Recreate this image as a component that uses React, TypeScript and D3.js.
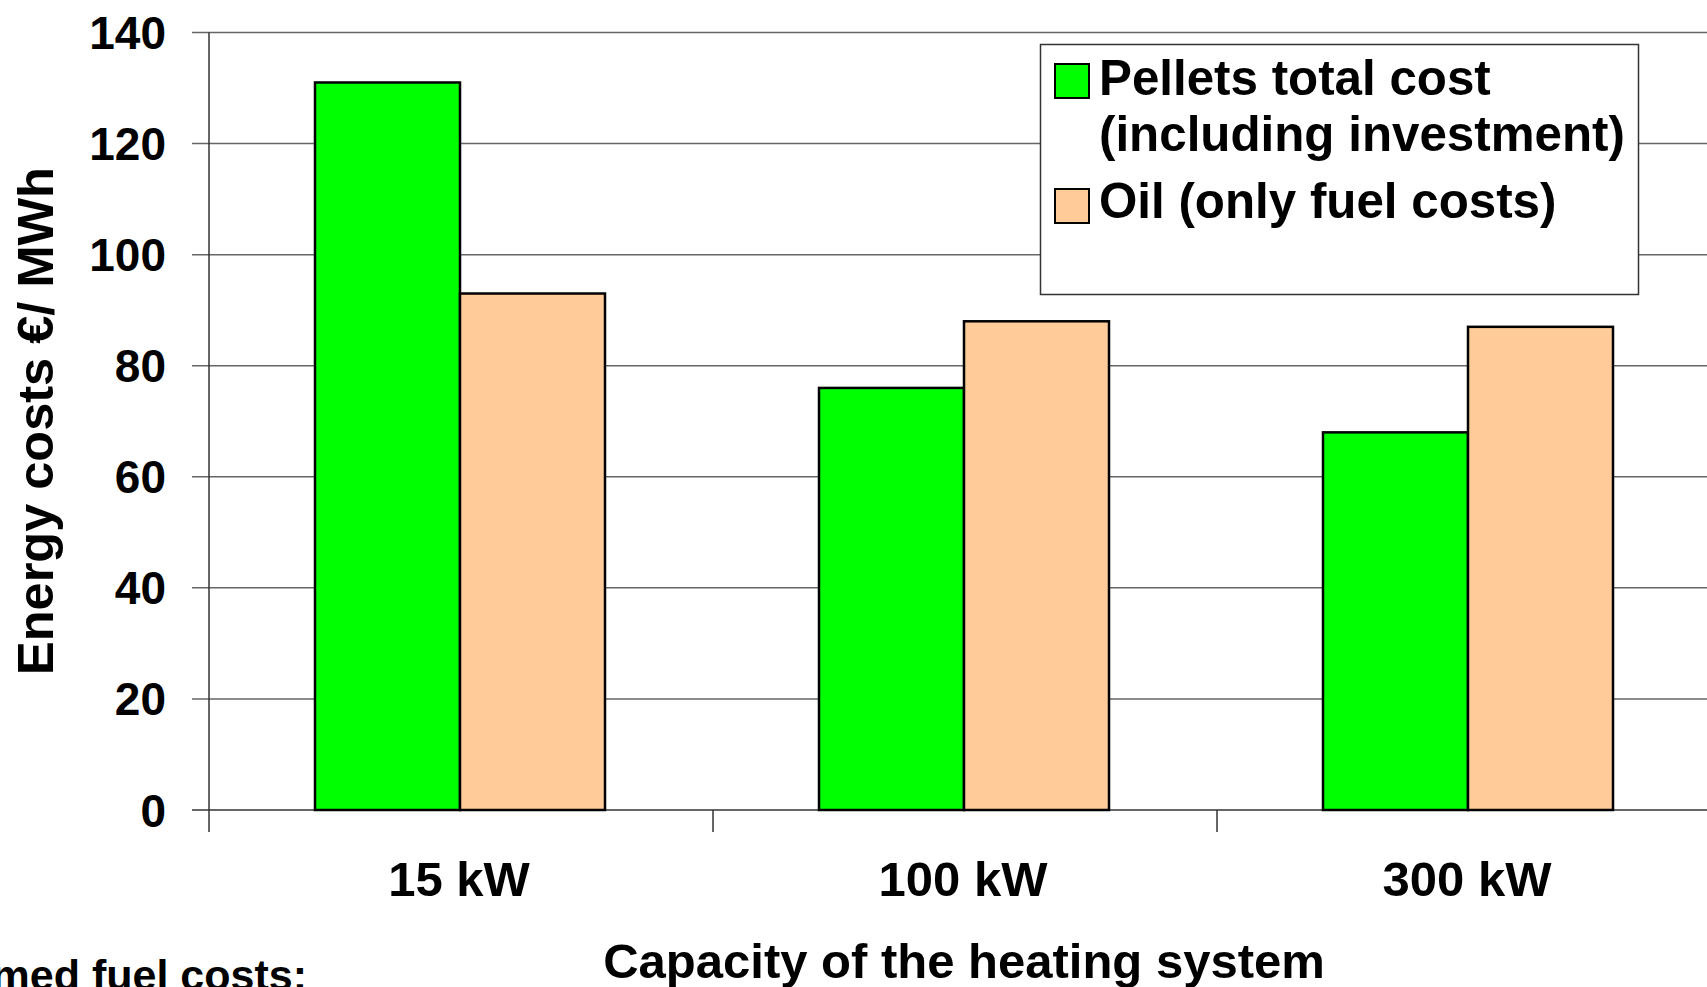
import React from "react";
import * as d3 from "d3";

const categories = ["15 kW", "100 kW", "300 kW"];
const seriesNames = ["Pellets total cost (including investment)", "Oil (only fuel costs)"];
const pelletsValues = [131, 76, 68];
const oilValues = [93, 88, 87];
const yTicks = [0, 20, 40, 60, 80, 100, 120, 140];
const colors = ["#00FF00", "#FFCC99"];

const W = 1707;
const H = 987;
const FONT = "'Liberation Sans', Arial, Helvetica, sans-serif";

export default function App() {
  const x0 = 209;
  const step = 504;
  const xScale = d3.scaleBand<string>().domain(categories).range([x0, x0 + step * categories.length]).padding(0);
  const inner = d3.scaleBand<string>().domain(["p", "o"]).range([106, 396]).padding(0);
  const y = d3.scaleLinear().domain([0, 140]).range([810, 32.5]);
  const series = [pelletsValues, oilValues];
  const keys = ["p", "o"];
  const plotRight = x0 + step * categories.length;

  return (
    <svg
      width={W}
      height={H}
      viewBox={`0 0 ${W} ${H}`}
      style={{ position: "absolute", left: 0, top: 0, background: "#fff", overflow: "hidden" }}
    >
      <rect x={0} y={0} width={W} height={H} fill="#fff" />
      {/* gridlines */}
      {yTicks.map((t) => (
        <line key={"g" + t} x1={192} x2={plotRight} y1={y(t)} y2={y(t)} stroke={t === 0 ? "#333" : "#666"} strokeWidth={1.5} />
      ))}
      {/* y axis */}
      <line x1={x0} x2={x0} y1={y(140)} y2={y(0)} stroke="#333" strokeWidth={1.5} />
      {/* x ticks */}
      {categories.map((c) => (
        <line key={"xt" + c} x1={xScale(c)!} x2={xScale(c)!} y1={y(0)} y2={y(0) + 22} stroke="#333" strokeWidth={1.5} />
      ))}
      {/* bars */}
      {categories.map((c, i) =>
        series.map((s, j) => (
          <rect
            key={c + j}
            x={xScale(c)! + inner(keys[j])!}
            y={y(s[i])}
            width={inner.bandwidth()}
            height={y(0) - y(s[i])}
            fill={colors[j]}
            stroke="#000"
            strokeWidth={2.5}
          />
        ))
      )}
      {/* y tick labels */}
      {yTicks.map((t) => (
        <text key={"yl" + t} x={166} y={y(t)} dy="0.36em" textAnchor="end" fontFamily={FONT} fontWeight="bold" fontSize={46} fill="#000">
          {t}
        </text>
      ))}
      {/* x tick labels */}
      {categories.map((c) => (
        <text key={"xl" + c} x={xScale(c)! + step / 2 - 2} y={896} textAnchor="middle" fontFamily={FONT} fontWeight="bold" fontSize={49} fill="#000">
          {c}
        </text>
      ))}
      {/* axis titles */}
      <text
        transform={`translate(53,421) rotate(-90)`}
        textAnchor="middle"
        fontFamily={FONT}
        fontWeight="bold"
        fontSize={50.5}
        fill="#000"
      >
        Energy costs €/ MWh
      </text>
      <text x={964} y={978} textAnchor="middle" fontFamily={FONT} fontWeight="bold" fontSize={49} fill="#000">
        Capacity of the heating system
      </text>
      <text x={307} y={990} textAnchor="end" fontFamily={FONT} fontWeight="bold" fontSize={43} fill="#000">
        Assumed fuel costs:
      </text>
      {/* legend */}
      <g>
        <rect x={1040.5} y={44.5} width={598} height={250} fill="#fff" stroke="#333" strokeWidth={1.5} />
        <rect x={1055} y={64} width={34} height={34} fill={colors[0]} stroke="#000" strokeWidth={2} />
        <text x={1099} y={95} fontFamily={FONT} fontWeight="bold" fontSize={49.3} fill="#000">
          Pellets total cost
        </text>
        <text x={1099} y={151} fontFamily={FONT} fontWeight="bold" fontSize={49.3} fill="#000">
          (including investment)
        </text>
        <rect x={1055} y={189} width={34} height={34} fill={colors[1]} stroke="#000" strokeWidth={2} />
        <text x={1099} y={218} fontFamily={FONT} fontWeight="bold" fontSize={49.3} fill="#000">
          {seriesNames[1]}
        </text>
      </g>
    </svg>
  );
}
